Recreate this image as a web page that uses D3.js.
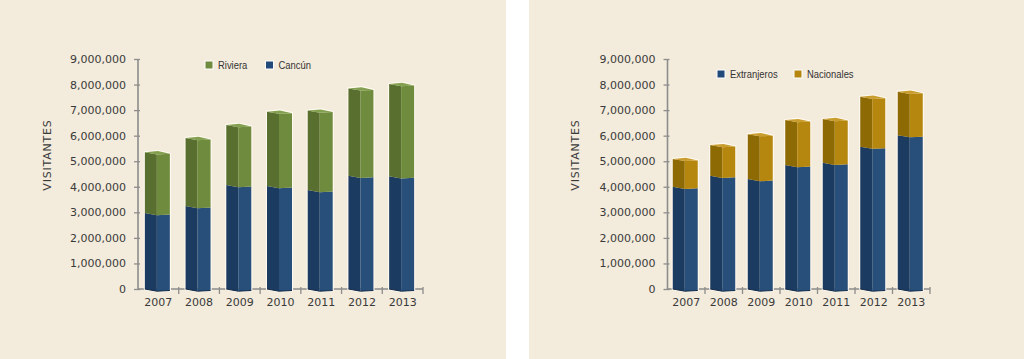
<!DOCTYPE html>
<html>
<head>
<meta charset="utf-8">
<script src="https://cdn.jsdelivr.net/npm/d3@7"></script>
<style>
  html, body { margin: 0; padding: 0; background: #ffffff; }
  svg { display: block; }
</style>
</head>
<body>
<svg id="chart" width="1024" height="359"></svg>
<script>
// ---- data ----
const years = ["2007", "2008", "2009", "2010", "2011", "2012", "2013"];
const cancun = [2970000, 3250000, 4070000, 4030000, 3870000, 4430000, 4410000];
const riviera = [2380000, 2660000, 2350000, 2910000, 3110000, 3420000, 3610000];
const extranjeros = [4000000, 4430000, 4300000, 4850000, 4940000, 5570000, 6020000];
const nacionales = [1090000, 1200000, 1760000, 1760000, 1710000, 1950000, 1700000];
const yTicks = [0, 1000000, 2000000, 3000000, 4000000, 5000000, 6000000, 7000000, 8000000, 9000000];
const yMax = 9000000;
const yTitle = "VISITANTES";

const svg = d3.select("#chart");
const BG = "#f3ebdb";
svg.append("rect").attr("x", 0).attr("y", 0).attr("width", 1024).attr("height", 359).attr("fill", "#ffffff");
svg.append("rect").attr("x", 0).attr("y", 0).attr("width", 506).attr("height", 359).attr("fill", BG);
svg.append("rect").attr("x", 529).attr("y", 0).attr("width", 495).attr("height", 359).attr("fill", BG);

const fmt = d3.format(",");
const palettes = {
  green: { left: "#586f2f", right: "#6f8b3e", cap: "#82a04f", legend: "#6f8b3e" },
  blue:  { left: "#1c3b60", right: "#284f79", cap: "#3b6291", legend: "#21497a" },
  gold:  { left: "#8e6a05", right: "#b5870f", cap: "#c99d2d", legend: "#b5870f" }
};

function drawChart(opts) {
  const g = svg.append("g");
  const x = d3.scaleBand().domain(years).range([opts.x0, opts.x1]).paddingInner(0).paddingOuter(0);
  const y = d3.scaleLinear().domain([0, yMax]).range([289, 59]);

  // y axis
  const ya = g.append("g").attr("transform", `translate(${opts.x0},0)`)
    .call(d3.axisLeft(y).tickValues(yTicks).tickFormat(fmt).tickSize(4).tickPadding(8));
  ya.select(".domain").attr("stroke", "#8d8d8d").attr("stroke-width", 1.6).attr("d", `M0,${y(yMax)}V${y(0)}`);
  ya.selectAll(".tick line").attr("stroke", "#8d8d8d").attr("stroke-width", 1.3).attr("x1", 2).attr("x2", -4);
  ya.selectAll(".tick text").attr("fill", "#3a3a3a").attr("font-family", "DejaVu Sans, sans-serif").attr("font-size", 11);

  // x axis
  const xa = g.append("g").attr("transform", `translate(0,${y(0)})`)
    .call(d3.axisBottom(x).tickSize(0).tickPadding(9));
  xa.select(".domain").attr("stroke", "#8d8d8d").attr("stroke-width", 1.6).attr("d", `M${opts.x0},0H${opts.x1}`);
  xa.selectAll(".tick text").attr("fill", "#3a3a3a").attr("font-family", "DejaVu Sans, sans-serif").attr("font-size", 11);
  const bounds = years.map(d => x(d) + x.bandwidth());
  xa.selectAll(".bound").data(bounds).enter().append("line")
    .attr("x1", d => d).attr("x2", d => d).attr("y1", -2).attr("y2", 5)
    .attr("stroke", "#8d8d8d").attr("stroke-width", 1.3);

  // y title
  g.append("text")
    .attr("transform", `translate(${opts.titleX},155) rotate(-90)`)
    .attr("text-anchor", "middle")
    .attr("font-family", "DejaVu Sans, sans-serif").attr("font-size", 11)
    .attr("letter-spacing", 0.8)
    .attr("fill", "#3a3a3a").text(yTitle);

  // bars
  const bw = 25, lw = 12, dl = 2.2, dr = -0.7;
  const bars = g.append("g");
  years.forEach((yr, i) => {
    const cx = x(yr) + x.bandwidth() / 2 - 1;
    const bx0 = cx - bw / 2, bxm = bx0 + lw, bx1 = bx0 + bw;
    const v0 = opts.bottom[i], v1 = opts.top[i];
    const segs = [
      { a: 0, b: v0, pal: palettes[opts.bottomColor] },
      { a: v0, b: v0 + v1, pal: palettes[opts.topColor] }
    ];
    const yTop = y(v0 + v1), yBot = y(0);
    bars.append("path")
      .attr("d", `M${bx0},${yTop}L${bx0 + 13},${yTop - 1.2}L${bx1},${yTop + dl + dr}L${bx1},${yBot + dl + dr}L${bxm},${yBot + dl}L${bx0},${yBot}Z`)
      .attr("fill", "none").attr("stroke", "#fffaf0").attr("stroke-width", 2.2).attr("stroke-linejoin", "round");
    segs.forEach(s => {
      const ya_ = y(s.b), yb_ = y(s.a);
      bars.append("path")
        .attr("d", `M${bx0},${ya_}L${bxm},${ya_ + dl}L${bxm},${yb_ + dl}L${bx0},${yb_}Z`)
        .attr("fill", s.pal.left);
      bars.append("path")
        .attr("d", `M${bxm},${ya_ + dl}L${bx1},${ya_ + dl + dr}L${bx1},${yb_ + dl + dr}L${bxm},${yb_ + dl}Z`)
        .attr("fill", s.pal.right);
    });
    const tp = segs[1].pal;
    bars.append("path")
      .attr("d", `M${bx0},${yTop}L${bx0 + 13},${yTop - 1.2}L${bx1},${yTop + dl + dr}L${bxm},${yTop + dl}Z`)
      .attr("fill", tp.cap);
    bars.append("path")
      .attr("d", `M${bx0},${yBot}L${bxm},${yBot + dl}L${bx1},${yBot + dl + dr}`)
      .attr("fill", "none").attr("stroke", "#112a48").attr("stroke-width", 1);
  });

  // legend
  const lg = g.append("g");
  opts.legend.forEach(l => {
    lg.append("rect").attr("x", l.x).attr("y", opts.legendY).attr("width", 8).attr("height", 8)
      .attr("fill", palettes[l.color].legend).attr("stroke", "#ffffff").attr("stroke-width", 1);
    lg.append("text")
      .attr("transform", `translate(${l.x + 13},${opts.legendY + 8.3}) scale(0.82,1)`)
      .attr("font-family", "Liberation Sans, Arial, sans-serif")
      .attr("font-size", 11.5).attr("fill", "#333333").text(l.label);
  });
}

drawChart({
  x0: 138, x1: 423, titleX: 51,
  bottom: cancun, top: riviera, bottomColor: "blue", topColor: "green",
  legendY: 61,
  legend: [{ x: 205, color: "green", label: "Riviera" }, { x: 265.5, color: "blue", label: "Cancún" }]
});
drawChart({
  x0: 667.5, x1: 930, titleX: 579,
  bottom: extranjeros, top: nacionales, bottomColor: "blue", topColor: "gold",
  legendY: 70,
  legend: [{ x: 717, color: "blue", label: "Extranjeros" }, { x: 794, color: "gold", label: "Nacionales" }]
});
</script>
</body>
</html>
